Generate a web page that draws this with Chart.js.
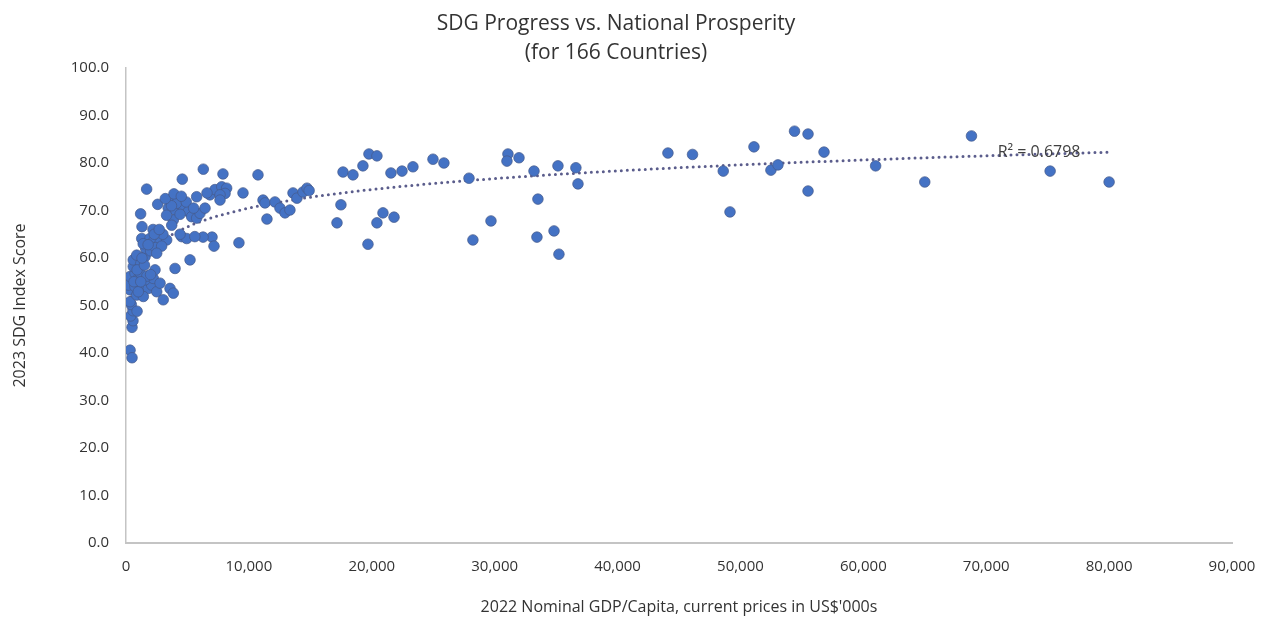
<!DOCTYPE html>
<html>
<head>
<meta charset="utf-8">
<script src="https://cdn.jsdelivr.net/npm/chart.js@4"></script>
<style>
  html, body { margin: 0; padding: 0; background: #fff; }
  #wrap { width: 1263px; height: 627px; }
</style>
</head>
<body>
<div id="wrap"><canvas id="sdgChart"></canvas></div>
<script>
// 2022 nominal GDP per capita (US$) and 2023 SDG index score, one entry per country
const gdp = [
  330, 490, 490, 570, 380, 570, 430, 900, 330, 330,
  190, 330, 730, 590, 590, 870, 1000, 730, 1280, 1810,
  2090, 1550, 870, 1410, 2500, 3030, 3580, 3850, 2220, 2770,
  2360, 3990, 5210, 1550, 1100, 1200, 1700, 650, 1000, 1200,
  1280, 1950, 2200, 2770, 3310, 4530, 4940,
  1600, 2000, 2400, 2900, 1400, 2600, 3000, 2200, 2500,
  1680, 4580, 6290, 7890, 1190, 1300, 2580, 3580, 4260, 3440,
  3990, 4660, 5070, 3850, 3720, 5340, 5750, 6020, 6430, 5750,
  6830, 7240, 7790, 8190, 8060, 7650, 7650, 6590, 3300, 4100,
  4400, 4900, 3700, 7000, 6270, 7160, 9190, 9520, 10740,
  11150, 11310, 11470, 12120, 12530, 12940, 13340, 13590, 13910, 14400,
  14730, 14900,
  17660, 18470, 19280, 19770, 20420, 21560, 22460, 23350, 24980, 25870,
  27910, 31080, 31000, 31980, 33200, 35150, 36610, 36780, 33520, 17490,
  17170, 20910, 21810, 20420, 19690, 28230, 29700, 33440, 34830, 35230,
  44100, 46100, 48600, 49150, 51100, 52480, 53050, 54400, 55500, 55500,
  56800, 61000, 65000, 68800, 75200, 80000,
  2300, 2700, 3200, 3900, 4500, 5500, 1800, 900, 1500, 1300,
  2000, 4400, 5600
];
const sdg = [
  40.6, 39.0, 45.4, 46.8, 47.8, 48.9, 50.2, 48.8, 50.8, 53.3,
  54.3, 56.1, 56.8, 58.2, 59.6, 60.6, 55.7, 54.0, 53.6, 53.6,
  54.3, 55.4, 52.2, 51.9, 52.9, 51.2, 53.6, 52.6, 55.7, 54.7,
  57.5, 57.8, 59.6, 60.3, 57.0, 58.8, 56.2, 55.0, 52.9, 55.0,
  64.1, 64.1, 63.4, 63.2, 63.8, 64.5, 64.1,
  62.0, 61.5, 62.2, 62.5, 63.0, 65.5, 65.0, 66.0, 61.0,
  74.5, 76.6, 78.7, 77.7, 69.3, 66.6, 71.3, 72.2, 72.6, 70.5,
  70.1, 70.5, 69.8, 68.0, 66.9, 68.7, 68.4, 69.4, 70.5, 72.9,
  73.3, 74.4, 75.0, 74.7, 73.6, 73.3, 72.2, 73.7, 69.0, 71.5,
  69.2, 71.8, 71.0, 64.4, 64.4, 62.5, 63.2, 73.7, 77.5,
  72.2, 71.6, 68.2, 71.8, 70.5, 69.5, 70.1, 73.7, 72.6, 73.9,
  74.7, 74.2,
  78.1, 77.5, 79.4, 81.9, 81.5, 77.9, 78.3, 79.2, 80.8, 80.0,
  76.8, 81.9, 80.4, 81.1, 78.3, 79.4, 79.0, 75.6, 72.4, 71.2,
  67.4, 69.5, 68.6, 67.4, 62.9, 63.8, 67.8, 64.4, 65.7, 60.8,
  82.1, 81.8, 78.3, 69.7, 83.4, 78.5, 79.6, 86.7, 86.1, 74.1,
  82.3, 79.4, 76.0, 85.7, 78.3, 76.0,
  65.0, 66.0, 72.5, 73.5, 73.0, 70.5, 62.8, 57.5, 58.5, 60.0,
  56.5, 65.0, 64.5
];
const xTicks = [0, 10000, 20000, 30000, 40000, 50000, 60000, 70000, 80000, 90000];
const r2Text = "R\u00B2 = 0.6798";

const points = gdp.map((g, i) => ({ x: g, y: sdg[i] }));

// logarithmic trendline (least squares on ln x), like the spreadsheet one
let n = gdp.length, sx = 0, sy = 0, sxx = 0, sxy = 0;
gdp.forEach((g, i) => {
  const lx = Math.log(g);
  sx += lx; sy += sdg[i]; sxx += lx * lx; sxy += lx * sdg[i];
});
const slope = (n * sxy - sx * sy) / (n * sxx - sx * sx);
const intercept = (sy - slope * sx) / n;
const xMin = Math.min(...gdp), xMax = Math.max(...gdp);
const trend = [];
for (let k = 0; k <= 400; k++) {
  const x = Math.exp(Math.log(xMin) + (Math.log(xMax) - Math.log(xMin)) * k / 400);
  trend.push({ x: x, y: slope * Math.log(x) + intercept });
}

const font = "'Open Sans', 'Noto Sans', sans-serif";

const r2Label = {
  id: "r2Label",
  afterDatasetsDraw(chart) {
    const ctx = chart.ctx;
    const xs = chart.scales.x, ys = chart.scales.y;
    ctx.save();
    ctx.font = "16px " + font;
    ctx.fillStyle = "#404040";
    ctx.textAlign = "center";
    ctx.textBaseline = "middle";
    ctx.fillText(r2Text, xs.getPixelForValue(74300), ys.getPixelForValue(82.3));
    ctx.restore();
  },
};

const ctx = document.getElementById("sdgChart").getContext("2d");
const sdgChart = new Chart(ctx, {
  type: "scatter",
  data: {
    datasets: [
      {
        label: "Countries",
        data: points,
        backgroundColor: "#4472C4",
        borderColor: "rgba(70, 90, 140, 0.9)",
        borderWidth: 0.8,
        pointRadius: 5.3,
        order: 1,
      },
      {
        type: "line",
        label: "Log trend",
        data: trend,
        borderColor: "#5b5d8c",
        borderWidth: 3,
        borderDash: [0, 6],
        borderCapStyle: "round",
        pointRadius: 0,
        fill: false,
        order: 2,
      },
    ],
  },
  options: {
    responsive: true,
    maintainAspectRatio: false,
    animation: false,
    layout: { padding: { left: 0, right: 31, top: 0, bottom: 0 } },
    plugins: {
      legend: { display: false },
      tooltip: { enabled: false },
      title: {
        display: true,
        text: ["SDG Progress vs. National Prosperity", "(for 166 Countries)"],
        color: "#333333",
        font: { family: font, size: 21, weight: "normal", lineHeight: 29.5 / 21 },
        padding: { top: 9, bottom: 0 },
      },
    },
    scales: {
      x: {
        type: "linear",
        min: 0,
        max: 90000,
        afterFit: (s) => { s.height = 84; s.paddingRight = 0; s.paddingLeft = 0; },
        afterBuildTicks: (s) => { s.ticks = xTicks.map((v) => ({ value: v })); },
        grid: { display: false, drawTicks: false },
        border: { color: "#c4c4c4", width: 2 },
        ticks: {
          color: "#333333",
          font: { family: font, size: 15 },
          padding: 15,
          maxRotation: 0,
          callback: (v) => v.toLocaleString("en-US"),
        },
        title: {
          display: true,
          text: "2022 Nominal GDP/Capita, current prices in US$'000s",
          color: "#333333",
          font: { family: font, size: 16 },
          padding: { top: 0, bottom: 10 },
        },
      },
      y: {
        min: 0,
        max: 100,
        afterFit: (s) => { s.width = 126; },
        grid: { display: false, drawTicks: false },
        border: { color: "#c4c4c4", width: 1.5 },
        ticks: {
          stepSize: 10,
          color: "#333333",
          font: { family: font, size: 15 },
          padding: 17,
          callback: (v) => v.toFixed(1),
        },
        title: {
          display: true,
          text: "2023 SDG Index Score",
          color: "#333333",
          font: { family: font, size: 16 },
          padding: { top: 11, bottom: 0 },
        },
      },
    },
  },
  plugins: [r2Label],
});
</script>
</body>
</html>
